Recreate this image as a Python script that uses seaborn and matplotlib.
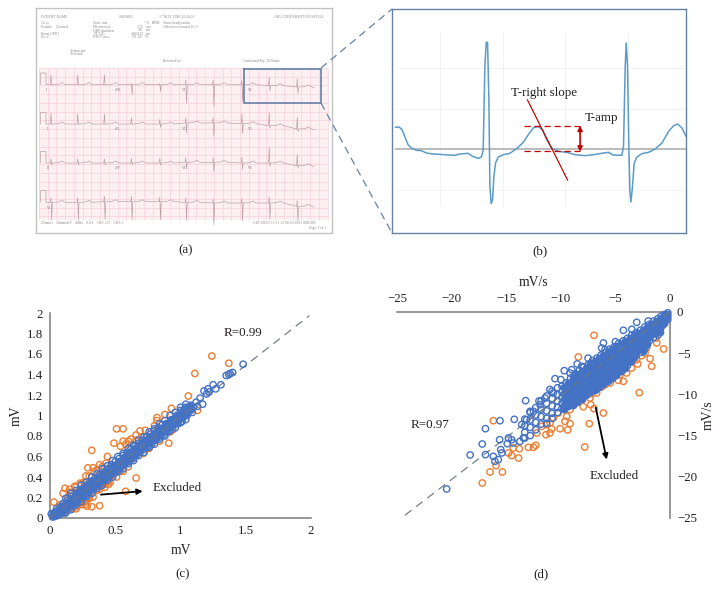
import numpy as np
import pandas as pd
import matplotlib.pyplot as plt
import seaborn as sns

sns.set_style('white')
plt.rcParams['font.family'] = ['Liberation Serif', 'DejaVu Serif']
plt.rcParams['axes.unicode_minus'] = True

W, H = 722, 589
BLUE = '#4472c4'
ORANGE = '#ed7d31'
DARK = '#231f20'
AXIS = '#7a7a7a'
DASH = '#6f7884'
FRAME = '#6681a8'
RED = '#c00000'

# panel (c): values in mV
orange_c_x = [1.24, 1.37, 1.11, 1.06, 1.13, 0.93, 0.88, 0.82, 0.82, 0.91, 0.92, 0.94, 0.51, 0.56, 0.49, 0.56, 0.54,
              0.32, 0.44, 0.62, 0.66, 0.69, 0.73, 0.75, 0.715, 0.66, 0.58, 0.51, 0.56, 0.52, 0.38, 0.32, 0.285,
              0.27, 0.33, 0.29, 0.37, 0.41, 0.447, 0.434, 0.47, 0.38, 0.20, 0.166, 0.10, 0.115, 0.03, 0.10, 0.15,
              0.19, 0.23, 0.275, 0.29, 0.33, 0.34, 0.38, 0.43, 0.23, 0.255, 0.217, 0.40, 0.42, 0.45, 0.30, 0.27,
              0.13, 0.17, 0.21, 0.25, 0.60, 0.64, 0.78, 0.84,
              0.08, 0.14, 0.16, 0.20, 0.24, 0.26, 0.30, 0.36, 0.40, 0.12, 0.20, 0.24, 0.28, 0.30, 0.33, 0.36, 0.39,
              0.42, 0.46, 0.50, 0.54, 0.60, 0.64, 0.72, 0.76, 0.66, 0.70, 0.80, 0.58, 0.60]
orange_c_y = [1.58, 1.51, 1.41, 1.19, 1.05, 1.07, 1.01, 0.98, 0.95, 0.73, 0.84, 0.86, 0.87, 0.87, 0.73, 0.75, 0.70,
              0.66, 0.60, 0.77, 0.81, 0.85, 0.855, 0.70, 0.63, 0.39, 0.26, 0.40, 0.455, 0.47, 0.12, 0.11, 0.115,
              0.16, 0.205, 0.26, 0.31, 0.34, 0.36, 0.374, 0.41, 0.28, 0.09, 0.10, 0.065, 0.29, 0.155, 0.24, 0.28,
              0.31, 0.34, 0.41, 0.49, 0.49, 0.455, 0.52, 0.535, 0.165, 0.145, 0.145, 0.32, 0.30, 0.33, 0.20, 0.13,
              0.08, 0.09, 0.12, 0.19, 0.50, 0.58, 0.72, 0.75,
              0.13, 0.20, 0.25, 0.30, 0.33, 0.35, 0.41, 0.47, 0.50, 0.08, 0.11, 0.13, 0.17, 0.19, 0.25, 0.27, 0.31,
              0.33, 0.35, 0.44, 0.46, 0.55, 0.59, 0.67, 0.68, 0.76, 0.79, 0.90, 0.72, 0.75]
blue_c_x = [0.01, 0.02, 0.03, 0.04, 0.05, 0.06, 0.07, 0.08, 0.08, 0.10, 0.10, 0.11, 0.13, 0.13, 0.15, 0.16, 0.16,
            0.18, 0.19, 0.20, 0.21, 0.22, 0.23, 0.24, 0.25, 0.26, 0.27, 0.28, 0.29, 0.30, 0.31, 0.32, 0.33, 0.34,
            0.35, 0.36, 0.37, 0.38, 0.39, 0.40, 0.41, 0.42, 0.43, 0.44, 0.45, 0.46, 0.47, 0.48, 0.49, 0.50, 0.51,
            0.52, 0.53, 0.54, 0.55, 0.56, 0.57, 0.58, 0.59, 0.60, 0.61, 0.62, 0.63, 0.64, 0.65, 0.66, 0.67, 0.68,
            0.69, 0.70, 0.71, 0.72, 0.73, 0.74, 0.75, 0.76, 0.77, 0.78, 0.79, 0.80, 0.81, 0.82, 0.83, 0.84, 0.85,
            0.86, 0.87, 0.88, 0.89, 0.90, 0.91, 0.93, 0.94, 0.95, 0.97, 0.98, 0.99, 1.00, 1.01, 1.02, 1.04, 1.05,
            1.06, 1.08, 1.09, 1.10, 1.12, 1.13, 1.15, 1.17, 1.18, 1.20, 1.21, 1.22, 1.25, 1.27, 1.31, 1.35, 1.37,
            1.38, 1.40, 1.48]
blue_c_y = [0.04, 0.01, 0.05, 0.02, 0.09, 0.03, 0.07, 0.11, 0.04, 0.07, 0.14, 0.05, 0.11, 0.17, 0.10, 0.16, 0.21,
            0.13, 0.19, 0.24, 0.16, 0.22, 0.27, 0.19, 0.25, 0.30, 0.22, 0.28, 0.33, 0.25, 0.31, 0.36, 0.28, 0.34,
            0.39, 0.31, 0.37, 0.42, 0.34, 0.40, 0.45, 0.37, 0.43, 0.48, 0.40, 0.46, 0.52, 0.43, 0.49, 0.55, 0.46,
            0.52, 0.58, 0.49, 0.55, 0.61, 0.52, 0.58, 0.64, 0.55, 0.61, 0.67, 0.58, 0.64, 0.70, 0.61, 0.67, 0.73,
            0.64, 0.70, 0.76, 0.67, 0.73, 0.79, 0.70, 0.76, 0.82, 0.73, 0.79, 0.85, 0.76, 0.82, 0.88, 0.79, 0.85,
            0.91, 0.81, 0.88, 0.92, 0.84, 0.91, 0.96, 0.88, 0.95, 1.00, 0.92, 0.99, 1.05, 0.94, 1.02, 1.08, 1.00,
            1.06, 1.10, 1.03, 1.08, 1.13, 1.09, 1.17, 1.11, 1.24, 1.21, 1.26, 1.23, 1.30, 1.26, 1.30, 1.39, 1.40,
            1.41, 1.42, 1.50]
core_c_x = [0.03, 0.05, 0.07, 0.09, 0.11, 0.13, 0.15, 0.17, 0.19, 0.21, 0.23, 0.25, 0.27, 0.29, 0.31, 0.33, 0.35,
            0.37, 0.39, 0.41, 0.43, 0.45, 0.47, 0.49, 0.51, 0.53, 0.55, 0.57, 0.59, 0.61, 0.63, 0.65, 0.67, 0.69,
            0.71, 0.73, 0.75, 0.77, 0.79, 0.81, 0.83, 0.85, 0.87, 0.89, 0.91, 0.93, 0.95, 0.97, 0.99, 1.01, 1.03,
            1.05, 1.07]
core_c_up = [0.05, 0.08, 0.09, 0.12, 0.13, 0.16, 0.17, 0.20, 0.21, 0.24, 0.25, 0.28, 0.29, 0.32, 0.33, 0.36, 0.37,
             0.40, 0.41, 0.44, 0.45, 0.48, 0.49, 0.52, 0.53, 0.56, 0.57, 0.60, 0.61, 0.64, 0.65, 0.68, 0.69, 0.72,
             0.73, 0.76, 0.77, 0.80, 0.81, 0.84, 0.85, 0.88, 0.89, 0.92, 0.93, 0.96, 0.97, 1.00, 1.01, 1.04, 1.05,
             1.08, 1.09]
core_c_down = [0.02, 0.03, 0.05, 0.06, 0.09, 0.10, 0.13, 0.14, 0.17, 0.18, 0.21, 0.22, 0.25, 0.26, 0.29, 0.30, 0.33,
               0.34, 0.37, 0.38, 0.41, 0.42, 0.45, 0.46, 0.49, 0.50, 0.53, 0.54, 0.57, 0.58, 0.61, 0.62, 0.65, 0.66,
               0.69, 0.70, 0.73, 0.74, 0.77, 0.78, 0.81, 0.82, 0.85, 0.86, 0.89, 0.90, 0.93, 0.94, 0.97, 0.98, 1.01,
               1.02, 1.05]
edge_c_x = [0.12, 0.16, 0.20, 0.24, 0.28, 0.32, 0.36, 0.40, 0.44, 0.48, 0.52, 0.56, 0.60, 0.64, 0.68, 0.72, 0.76,
            0.80, 0.84, 0.88, 0.92, 0.96, 1.00, 1.04]
edge_c_up = [0.19, 0.24, 0.27, 0.32, 0.35, 0.40, 0.43, 0.48, 0.51, 0.56, 0.60, 0.63, 0.68, 0.71, 0.76, 0.79, 0.84,
             0.87, 0.92, 0.95, 1.00, 1.03, 1.08, 1.11]
edge_c_down = [0.05, 0.08, 0.13, 0.16, 0.21, 0.24, 0.29, 0.32, 0.37, 0.40, 0.45, 0.48, 0.53, 0.56, 0.61, 0.64, 0.69,
               0.72, 0.77, 0.80, 0.85, 0.88, 0.93, 0.96]
line_c_x = [0, 1.987]
line_c_y = [0, 1.974]
ticks_c_x = [0, 0.5, 1, 1.5, 2]
ticks_c_y = [0, 0.2, 0.4, 0.6, 0.8, 1, 1.2, 1.4, 1.6, 1.8, 2]

# panel (d): values in mV/s
orange_d_x = [-6.96, -8.39, -0.58, -1.68, -1.83, -2.81, -6.1, -7.94, -7.26, -6.96, -7.39, -7.81, -9.16, -9.37,
              -10.07, -10.84, -10.99, -11.36, -12.3, -12.5, -12.97, -13.86, -13.8, -14.35, -14.5, -14.8, -16.18,
              -15.35, -16.48, -15.93, -17.19, -4.27, -4.73, -5.04, -5.25, -4.58, -3.97, -3.51, -3.66, -3.05, -2.96,
              -2.6, -2.29, -2.14, -1.28, -1.22, -5.49, -5.95, -6.26, -6.72, -7.17, -7.48, -7.33, -8.85, -9.16,
              -9.46, -9.62, -10.23, -10.68, -10.99, -11.29, -11.75, -12.2]
orange_d_y = [-2.83, -5.46, -4.49, -6.59, -5.66, -9.79, -12.26, -11.49, -11.25, -11.73, -13.55, -16.38, -13.55,
              -14.32, -14.16, -14.2, -14.68, -14.89, -16.18, -16.42, -16.42, -17.72, -16.59, -16.5, -17.43, -17.11,
              -13.19, -19.42, -19.42, -18.65, -20.75, -8.41, -8.29, -7.81, -7.6, -7.6, -7.4, -6.8, -5.99, -5.78,
              -6.31, -5.3, -4.98, -4.37, -3.16, -3.76, -8.62, -8.82, -9.1, -9.83, -9.91, -9.51, -10.44, -11.25,
              -11.85, -12.66, -13.27, -12.26, -12.86, -13.47, -13.67, -13.88, -14.68]
blue_d_out_x = [-20.45, -18.3, -17.19, -16.9, -16.9, -15.57, -14.26, -13.22, -16.18, -16.03, -15.72, -15.5, -15.4,
                -15.6, -14.8, -14.9, -14.5, -14.35, -13.74, -13.43, -13.58, -13.13, -12.82, -12.5, -10.53, -9.68,
                -9.16, -6.1, -6.26, -5.95, -4.27, -3.05, -8.09, -11.45, -11.9, -10.68,
                -7.5, -8.5, -9.0, -5.0, -3.5, -2.0, -10.0, -11.0, -12.0]
blue_d_out_y = [-21.48, -17.35, -16.02, -14.16, -17.31, -13.19, -13.03, -10.76, -17.52, -18.12, -17.92, -16.7, -17.1,
                -15.5, -15.29, -15.98, -15.5, -15.9, -15.7, -15.29, -13.67, -13.07, -12.06, -12.06, -8.09, -7.12,
                -7.4, -3.76, -4.37, -4.57, -2.22, -1.25, -6.59, -10.44, -11.25, -9.83,
                -5.6, -6.3, -7.0, -3.6, -2.1, -1.1, -8.2, -9.4, -10.8]
blue_d_col_x = [-0.2, -0.5, -0.8, -1.1, -1.5, -1.9, -2.3, -2.7, -3.1, -3.5, -3.9, -4.3, -4.7, -5.1, -5.5, -5.9, -6.3,
                -6.7, -7.1, -7.5, -7.9, -8.3, -8.7, -9.1, -9.5, -9.9, -10.3, -10.8, -11.3, -11.8, -12.3, -12.8, -13.3]
blue_d_col_y = [[-0.1, -0.5, -0.9], [-0.3, -0.8, -1.4], [-0.5, -1.1, -1.8], [-0.8, -1.5, -2.2, -2.8],
                [-1.1, -1.8, -2.5, -3.1], [-1.5, -2.2, -2.9, -3.5], [-1.8, -2.5, -3.2, -3.9, -4.4],
                [-2.2, -2.9, -3.6, -4.3, -4.9], [-2.5, -3.2, -3.9, -4.6, -5.3], [-2.8, -3.5, -4.2, -4.9, -5.6, -6.0],
                [-3.2, -3.9, -4.6, -5.3, -6.0, -6.5], [-3.5, -4.2, -4.9, -5.6, -6.3, -7.0],
                [-3.8, -4.5, -5.2, -5.9, -6.6, -7.3], [-4.2, -4.9, -5.6, -6.3, -7.0, -7.6],
                [-4.5, -5.2, -5.9, -6.6, -7.3, -8.0], [-4.9, -5.6, -6.3, -7.0, -7.7, -8.4],
                [-5.2, -5.9, -6.6, -7.3, -8.0, -8.7], [-5.6, -6.3, -7.0, -7.7, -8.4, -9.1],
                [-5.9, -6.6, -7.3, -8.0, -8.7, -9.4], [-6.4, -7.1, -7.8, -8.5, -9.2, -9.8],
                [-6.7, -7.4, -8.1, -8.8, -9.5, -10.1], [-7.1, -7.8, -8.5, -9.2, -9.9, -10.5],
                [-7.5, -8.2, -8.9, -9.6, -10.3, -10.8], [-8.0, -8.7, -9.4, -10.1, -10.8, -11.2],
                [-8.6, -9.3, -10.0, -10.7, -11.4], [-9.0, -9.7, -10.4, -11.1, -11.7], [-9.2, -10.0, -10.8, -11.6, -12.2],
                [-9.6, -10.5, -11.4, -12.3, -12.9], [-10.2, -11.1, -12.0, -12.9, -13.5], [-10.8, -11.8, -12.7, -13.6],
                [-11.6, -12.5, -13.4, -14.3], [-12.2, -13.1, -14.0, -15.0], [-13.0, -13.8, -14.6, -15.3]]
core_d_col_x = [-0.35, -0.65, -0.95, -1.3, -1.7, -2.1, -2.5, -2.9, -3.3, -3.7, -4.1, -4.5, -4.9, -5.3, -5.7, -6.1,
                -6.5, -6.9, -7.3, -7.7, -8.1, -8.5, -8.9, -9.3, -9.7]
core_d_col_y = [[-0.3, -0.7], [-0.55, -1.0, -1.5], [-0.85, -1.3, -1.9, -2.4], [-1.15, -1.85, -2.5],
                [-1.45, -2.15, -2.85], [-1.85, -2.55, -3.25, -3.9], [-2.15, -2.85, -3.55, -4.25, -4.7],
                [-2.55, -3.25, -3.95, -4.65], [-2.85, -3.55, -4.25, -4.95, -5.5], [-3.15, -3.85, -4.55, -5.25, -5.95],
                [-3.55, -4.25, -4.95, -5.65, -6.35, -6.8], [-3.85, -4.55, -5.25, -5.95, -6.65, -7.2],
                [-4.15, -4.85, -5.55, -6.25, -6.95, -7.6], [-4.55, -5.25, -5.95, -6.65, -7.35, -8.0],
                [-4.85, -5.55, -6.25, -6.95, -7.65, -8.35], [-5.25, -5.95, -6.65, -7.35, -8.05, -8.75],
                [-5.55, -6.25, -6.95, -7.65, -8.35, -9.05], [-5.95, -6.65, -7.35, -8.05, -8.75, -9.45],
                [-6.25, -6.95, -7.65, -8.35, -9.05, -9.75], [-6.75, -7.45, -8.15, -8.85, -9.55, -10.1],
                [-7.15, -7.85, -8.55, -9.25, -9.95, -10.5], [-7.55, -8.25, -8.95, -9.65, -10.35, -10.9],
                [-8.05, -8.75, -9.45, -10.15, -10.85, -11.3], [-8.65, -9.35, -10.05, -10.75, -11.4],
                [-9.15, -9.85, -10.55, -11.25, -11.8]]
line_d_x = [0, -24.7]
line_d_y = [0, -25.1]
ticks_d = [-25, -20, -15, -10, -5, 0]
ticks_d_labels = ['\u221225', '\u221220', '\u221215', '\u221210', '\u22125', '0']

# panel (b): ECG trace
ecg_x = [167, 178, 187, 195, 205, 215, 230, 245, 260, 280, 300, 325, 345, 360, 385, 398, 415, 425, 430, 435, 439,
         443, 447, 450, 454, 458, 462, 467, 475, 490, 510, 530, 550, 565, 580, 595, 608, 620, 635, 655, 680, 705,
         735, 760, 785, 805, 818, 845, 850, 855, 858, 862, 866, 869, 872, 876, 882, 890, 905, 925, 945, 965, 985,
         1000, 1012, 1025, 1037]
ecg_y = [383, 382, 390, 410, 435, 445, 452, 453, 460, 463, 464, 466, 467, 463, 461, 470, 476, 472, 450, 200, 128,
         128, 300, 560, 612, 600, 530, 490, 472, 465, 461, 447, 428, 405, 385, 380, 392, 420, 445, 455, 458, 465,
         468, 465, 461, 458, 466, 467, 440, 200, 130, 200, 450, 570, 607, 570, 490, 472, 462, 458, 448, 430, 395,
         378, 373, 385, 410]
slope_x = [562, 683]
slope_y = [300, 542]

# panel (a): 12 lead strip
strip_r_x = [94, 174, 254, 335, 420, 498, 580, 666, 748, 832]
strip_bases = [[255, 255, 255, 255, 255, 255, 255, 255, 258, 262],
               [373, 373, 373, 373, 373, 370, 370, 372, 378, 388],
               [490, 490, 490, 490, 490, 488, 488, 490, 490, 498],
               [608, 608, 606, 606, 606, 608, 610, 610, 610, 620]]
strip_ups = [[30, 30, 30, 4, 3, 14, 14, 14, 25, 25],
             [32, 30, 30, 18, 14, 16, 16, 30, 38, 36],
             [12, 12, 12, 14, 14, 14, 14, 18, 48, 34],
             [14, 14, 16, 16, 14, 14, 12, 14, 18, 18]]
strip_downs = [[2, 2, 2, 30, 20, 55, 65, 50, 16, 20],
               [2, 2, 2, 2, 10, 30, 40, 30, 8, 8],
               [6, 6, 6, 6, 6, 20, 28, 20, 10, 8],
               [52, 52, 54, 54, 54, 54, 66, 54, 48, 44]]
lead_names = ['I', 'aVR', 'V1', 'V4', 'II', 'aVL', 'V2', 'V5', 'III', 'aVF', 'V3', 'V6', 'V1']
lead_x = [78, 283, 485, 683, 80, 283, 485, 683, 80, 283, 485, 683, 80]
lead_y = [271, 271, 271, 271, 388, 388, 388, 388, 506, 506, 506, 506, 624]
header_text = ['PATIENT NAME', '00000002', '17 NOV 1990 12:34:56', 'AKU UNIVERSITY HOSPITAL',
               '52 yr', 'Female    Oriental', 'Room:OPD1', 'Loc:2',
               'Vent. rate', 'PR interval', 'QRS duration', 'QT/QTc', 'P-R-T axes',
               '73   BPM', '172    ms', '90    ms', '404/433   ms', '59  49   79',
               'Sinus bradycardia', 'Otherwise normal ECG',
               'Technician:', 'Test ind:', 'Referred by:', 'Confirmed By: Dr.Name',
               '25mm/s   10mm/mV   40Hz   9.0.1   CID: 237   CID: 1', 'GDI 93021 12 11 13 06:50 2001 SMEDB', 'Page 1 of 1']
header_x = [62, 295, 418, 760, 62, 62, 62, 62, 220, 220, 220, 220, 220, 375, 350, 355, 332, 335, 430, 430, 150, 150,
            430, 667, 62, 698, 865]
header_y = [52, 52, 52, 52, 71, 82, 103, 113, 71, 81, 91, 102, 113, 71, 81, 91, 102, 113, 71, 82, 154, 164, 185, 185,
            671, 671, 686]


def px_axes(left, top, right, bottom):
    return fig.add_axes([left / W, 1 - bottom / H, (right - left) / W, (bottom - top) / H])


def rings(ax, x, y, color, face='none'):
    sns.scatterplot(x=x, y=y, ax=ax, marker='o', s=21, facecolor=face, edgecolor=color, linewidth=1.0,
                    clip_on=False, legend=False, zorder=3)


def trace(ax, x, y, color, lw, **kw):
    sns.lineplot(x=x, y=y, ax=ax, sort=False, estimator=None, color=color, linewidth=lw, legend=False, **kw)


fig = plt.figure(figsize=(W / 100, H / 100), dpi=100)

# (a) ECG sheet
ax_a = px_axes(36, 8, 332, 233)
ax_a.set_xlim(48, 935)
ax_a.set_ylim(700, 25)
ax_a.set_xticks([])
ax_a.set_yticks([])
for s in ax_a.spines.values():
    s.set_color('#c2c2c2')
    s.set_linewidth(1)
ax_a.fill_between([57, 922], 205, 660, color='#fdf0f2', lw=0, zorder=0)
ax_a.vlines(np.arange(57, 923, 26.2), 205, 660, color='#f7ccd5', lw=0.45, zorder=1)
ax_a.hlines(np.arange(205, 661, 26.2), 57, 922, color='#f7ccd5', lw=0.45, zorder=1)
for row, (bases, ups, downs) in enumerate(zip(strip_bases, strip_ups, strip_downs)):
    b0 = bases[0]
    xs, ys = [62, 62, 78, 78, 84], [b0, b0 - 35, b0 - 35, b0, b0]
    for rx, b, u, d in zip(strip_r_x, bases, ups, downs):
        xs += [rx - 3, rx - 1, rx + 1, rx + 3, rx + 22, rx + 32, rx + 42]
        ys += [b, b - u, b + d, b, b - 1, b - 6, b]
    xs += [882]
    ys += [bases[-1] + 3]
    trace(ax_a, xs, ys, '#b39da3', 0.45, zorder=2)
for nm, lx, ly in zip(lead_names, lead_x, lead_y):
    ax_a.text(lx, ly, nm, fontsize=2.6, color='#777777', va='center')
for txt, tx, ty in zip(header_text, header_x, header_y):
    ax_a.text(tx, ty, txt, fontsize=2.7, color='#555555', va='center', alpha=0.7)
ax_a.plot([672, 902, 902, 672, 672], [207, 207, 310, 310, 207], color=FRAME, lw=1.2, zorder=4)

# (b) zoomed trace
ax_b = px_axes(392, 9, 686, 233)
ax_b.set_xlim(157, 1037)
ax_b.set_ylim(700, 28)
ax_b.set_xticks([])
ax_b.set_yticks([])
for s in ax_b.spines.values():
    s.set_color(FRAME)
    s.set_linewidth(1.0)
ax_b.vlines([300, 488, 675, 862], 97, 620, color='#f0f2f5', lw=0.7)
ax_b.hlines([205, 327, 570], 167, 1037, color='#f0f2f5', lw=0.7)
ax_b.hlines(448, 167, 1037, color='#a8a8a8', lw=1.1)
trace(ax_b, ecg_x, ecg_y, '#5b9bc8', 1.1)
trace(ax_b, slope_x, slope_y, RED, 0.85)
ax_b.hlines([380, 453], 552, 720, color=RED, lw=0.9, linestyles=(0, (5, 3)))
ax_b.annotate('', xy=(720, 378), xytext=(720, 456),
              arrowprops=dict(arrowstyle='<|-|>', color=RED, lw=1.2, mutation_scale=7, shrinkA=0, shrinkB=0))
ax_b.text(512, 280, 'T-right slope', fontsize=9.4, color=DARK, va='center')
ax_b.text(733, 356, 'T-amp', fontsize=9.4, color=DARK, va='center')

# (c) T-amp scatter
ax_c = px_axes(50, 313, 311, 518)
ax_c.set_xlim(0, 2)
ax_c.set_ylim(0, 2)
trace(ax_c, line_c_x, line_c_y, DASH, 0.85, linestyle=(0, (7, 5)), zorder=2)
rings(ax_c, orange_c_x, orange_c_y, ORANGE)
rings(ax_c, blue_c_x, blue_c_y, BLUE)
rings(ax_c, core_c_x, core_c_up, BLUE, BLUE)
rings(ax_c, core_c_x, core_c_down, BLUE, BLUE)
rings(ax_c, edge_c_x, edge_c_up, BLUE)
rings(ax_c, edge_c_x, edge_c_down, BLUE)
trace(ax_c, [0, 1.1], [0, 1.09], DASH, 0.85, linestyle=(0, (7, 5)), zorder=4)
sns.despine(ax=ax_c)
ax_c.set_xticks(ticks_c_x, [str(t) for t in ticks_c_x])
ax_c.set_yticks(ticks_c_y, [str(t) for t in ticks_c_y])
ax_c.tick_params(length=0, labelsize=9.3, labelcolor=DARK, pad=5)
ax_c.set_xlabel('mV', fontsize=9.8, color=DARK, labelpad=5)
ax_c.set_ylabel('mV', fontsize=9.8, color=DARK, labelpad=3)
ax_c.annotate('', xy=(0.71, 0.262), xytext=(0.39, 0.228),
              arrowprops=dict(arrowstyle='-|>', color='black', lw=1.3, mutation_scale=8, shrinkA=0, shrinkB=0),
              zorder=5)
ax_c.text(0.787, 0.293, 'Excluded', fontsize=9.4, color=DARK, va='center')
ax_c.text(1.328, 1.80, 'R=0.99', fontsize=9.4, color=DARK, va='center')

# (d) T-right slope scatter
ax_d = px_axes(397, 312, 670, 518)
ax_d.set_xlim(-25, 0)
ax_d.set_ylim(-25, 0)
trace(ax_d, line_d_x, line_d_y, DASH, 0.85, linestyle=(0, (7, 5)), zorder=2)
rings(ax_d, orange_d_x, orange_d_y, ORANGE)
band = pd.DataFrame({'x': [x for x, col in zip(blue_d_col_x, blue_d_col_y) for _ in col],
                     'y': [v for col in blue_d_col_y for v in col]})
core = pd.DataFrame({'x': [x for x, col in zip(core_d_col_x, core_d_col_y) for _ in col],
                     'y': [v for col in core_d_col_y for v in col]})
rings(ax_d, band['x'], band['y'], BLUE)
rings(ax_d, core['x'], core['y'], BLUE, BLUE)
rings(ax_d, blue_d_out_x, blue_d_out_y, BLUE)
trace(ax_d, [0, -13], [0, -13.2], DASH, 0.85, linestyle=(0, (7, 5)), zorder=4)
sns.despine(ax=ax_d, left=True, bottom=True, top=False, right=False)
ax_d.xaxis.tick_top()
ax_d.xaxis.set_label_position('top')
ax_d.yaxis.tick_right()
ax_d.yaxis.set_label_position('right')
ax_d.set_xticks(ticks_d, ticks_d_labels)
ax_d.set_yticks(ticks_d, ticks_d_labels)
ax_d.tick_params(length=0, labelsize=9.3, labelcolor=DARK, pad=5)
ax_d.set_xlabel('mV/s', fontsize=9.8, color=DARK, labelpad=5)
ax_d.set_ylabel('mV/s', fontsize=9.8, color=DARK, labelpad=3)
ax_d.annotate('', xy=(-5.8, -17.9), xytext=(-6.8, -11.6),
              arrowprops=dict(arrowstyle='-|>', color='black', lw=1.3, mutation_scale=8, shrinkA=0, shrinkB=0),
              zorder=5)
ax_d.text(-7.4, -19.95, 'Excluded', fontsize=9.4, color=DARK, va='center')
ax_d.text(-23.8, -13.75, 'R=0.97', fontsize=9.4, color=DARK, va='center')

for a in (ax_c, ax_d):
    for s in a.spines.values():
        s.set_color(AXIS)
        s.set_linewidth(1.1)

# page overlay: zoom guides and captions, in pixels
page = fig.add_axes([0, 0, 1, 1], facecolor='none')
page.set_xlim(0, W)
page.set_ylim(H, 0)
page.axis('off')
page.plot([321, 392], [68, 9], color=FRAME, lw=0.9, ls=(0, (6, 4)))
page.plot([321, 392], [103, 233], color=FRAME, lw=0.9, ls=(0, (6, 4)))
for cap, cx, cy in zip(['(a)', '(b)', '(c)', '(d)'], [186, 540, 183, 541], [250, 251, 574, 574]):
    page.text(cx, cy, cap, fontsize=9.4, color=DARK, ha='center', va='center')

fig.savefig('out.png', dpi=100)
